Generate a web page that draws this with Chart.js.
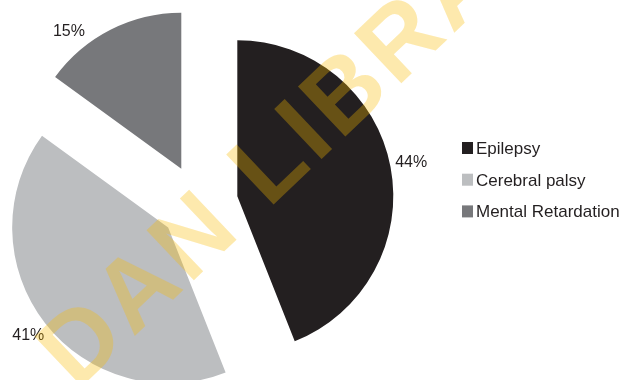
<!DOCTYPE html>
<html>
<head>
<meta charset="utf-8">
<script src="https://cdn.jsdelivr.net/npm/chart.js@4.4.0/dist/chart.umd.min.js"></script>
<style>
  html, body { margin: 0; padding: 0; background: #fff; }
  #wrap { position: relative; width: 621px; height: 380px; }
</style>
</head>
<body>
<div id="wrap"><canvas id="pieChart" width="621" height="380"></canvas></div>
<script>
// Dados do gráfico
const categories = ['Epilepsy', 'Cerebral palsy', 'Mental Retardation'];
const shares = [44, 41, 15];
const sliceColors = ['#231f20', '#bcbec0', '#77787b'];
const watermarkText = 'DAN LIBRARY';

// Geometria / estilo
const RADIUS = 156;
const EXPLODE = 39;
const LABEL_GAP = 21;
const labelNudgeDeg = [0, 0, -12.4];
const TEXT_COLOR = '#231f20';
const FONT_FAMILY = '"Liberation Sans", Arial, Helvetica, sans-serif';

// Separa as fatias ao longo do ângulo médio (estilo "explodido")
const explodePlugin = {
    id: 'explode',
    afterDatasetUpdate(chart, args) {
        args.meta.data.forEach(arc => {
            const mid = (arc.startAngle + arc.endAngle) / 2;
            arc.x += Math.cos(mid) * EXPLODE;
            arc.y += Math.sin(mid) * EXPLODE;
        });
    }
};

// Rótulos de porcentagem fora das fatias
const percentLabels = {
    id: 'percentLabels',
    afterDatasetsDraw(chart) {
        const { ctx } = chart;
        const meta = chart.getDatasetMeta(0);
        ctx.save();
        ctx.font = `16px ${FONT_FAMILY}`;
        ctx.fillStyle = TEXT_COLOR;
        ctx.textAlign = 'center';
        ctx.textBaseline = 'middle';
        meta.data.forEach((arc, i) => {
            const mid = (arc.startAngle + arc.endAngle) / 2 + labelNudgeDeg[i] * Math.PI / 180;
            const dist = arc.outerRadius + LABEL_GAP;
            ctx.fillText(`${shares[i]}%`, arc.x + Math.cos(mid) * dist, arc.y + Math.sin(mid) * dist);
        });
        ctx.restore();
    }
};

// Legenda à direita
const sideLegend = {
    id: 'sideLegend',
    afterDraw(chart) {
        const { ctx } = chart;
        ctx.save();
        ctx.font = `17px ${FONT_FAMILY}`;
        ctx.textBaseline = 'alphabetic';
        ctx.textAlign = 'left';
        categories.forEach((name, i) => {
            const baseline = 154 + i * 31.7;
            ctx.fillStyle = sliceColors[i];
            ctx.fillRect(462, baseline - 12, 11, 12);
            ctx.fillStyle = TEXT_COLOR;
            ctx.fillText(name, 476, baseline);
        });
        ctx.restore();
    }
};

// Marca d'água amarela diagonal
const watermark = {
    id: 'watermark',
    afterDraw(chart) {
        const { ctx } = chart;
        ctx.save();
        ctx.translate(77, 391);
        ctx.rotate(-43.5 * Math.PI / 180);
        ctx.font = `bold 100px ${FONT_FAMILY}`;
        ctx.letterSpacing = '5px';
        ctx.fillStyle = 'rgba(250, 187, 0, 0.32)';
        ctx.textBaseline = 'alphabetic';
        ctx.fillText(watermarkText, 0, 0);
        ctx.restore();
    }
};

new Chart(document.getElementById('pieChart').getContext('2d'), {
    type: 'pie',
    data: {
        labels: categories,
        datasets: [{
            data: shares,
            backgroundColor: sliceColors,
            borderWidth: 0,
            radius: RADIUS,
            clip: false
        }]
    },
    options: {
        responsive: false,
        animation: false,
        layout: { padding: { left: 0, right: 223, top: 27, bottom: 0 } },
        plugins: {
            legend: { display: false },
            tooltip: { enabled: false }
        }
    },
    plugins: [explodePlugin, percentLabels, sideLegend, watermark]
});
</script>
</body>
</html>
